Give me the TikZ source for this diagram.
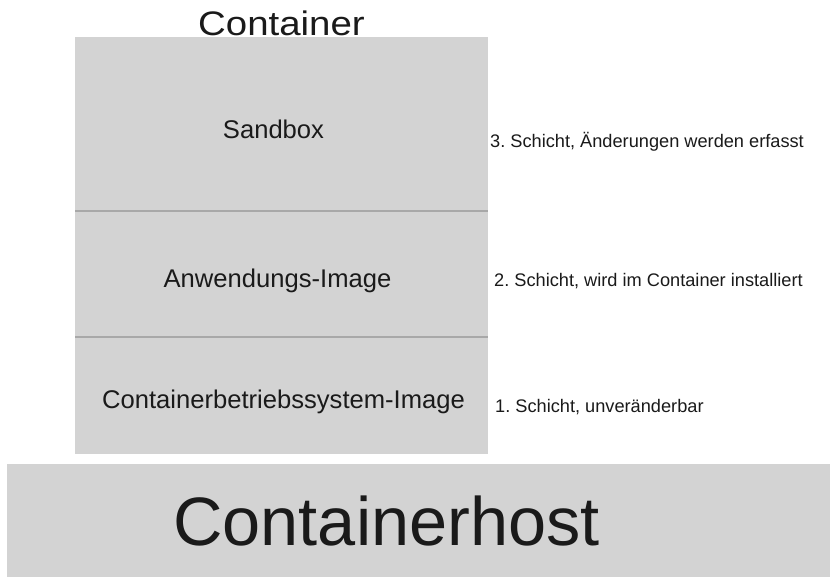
\documentclass[tikz,border=0pt]{standalone}
\usepackage{fontspec}
\setmainfont{Liberation Sans}
\frenchspacing
\definecolor{layergray}{HTML}{D3D3D3}
\definecolor{divgray}{HTML}{A8A8A8}
\definecolor{txt}{HTML}{1A1A1A}
\begin{document}
\begin{tikzpicture}[x=1pt,y=-1pt,
  layer/.style={fill=layergray,draw=none},
  divider/.style={draw=divgray,line width=2pt},
  midtext/.style={anchor=base,text=txt,inner sep=0pt,font=\fontsize{25.6}{30}\selectfont},
  sidetext/.style={anchor=base west,text=txt,inner sep=0pt,font=\fontsize{18.2}{22}\selectfont}]
\useasboundingbox (0,0) rectangle (830,577);
\fill[white] (0,0) rectangle (830,577);
% container box
\path[layer] (75,37) rectangle (487.5,454);
\coordinate (d1l) at (75,211); \coordinate (d1r) at (487.5,211);
\coordinate (d2l) at (75,337); \coordinate (d2r) at (487.5,337);
\draw[divider] (d1l) -- (d1r);
\draw[divider] (d2l) -- (d2r);
% host box
\path[layer] (7,464) rectangle (830,577);
% title
\node[anchor=base,text=txt,inner sep=0pt,font=\fontsize{34}{40}\selectfont] (title) at (281.5,36) {\scalebox{1.13}[1]{Container}};
% layer texts
\node[midtext] (sandbox) at (273.5,139) {Sandbox};
\node[midtext] (app) at (277.5,288) {Anwendungs-Image};
\node[midtext] (os) at (283.5,408) {Containerbetriebssystem-Image};
% side texts
\node[sidetext] (s3) at (490,148) {3. Schicht, Änderungen werden erfasst};
\node[sidetext] (s2) at (494,287) {2. Schicht, wird im Container installiert};
\node[sidetext] (s1) at (495,412) {1. Schicht, unveränderbar};
% host text
\node[anchor=base,text=txt,inner sep=0pt,font=\fontsize{68.5}{80}\selectfont] (host) at (386.5,545) {Containerhost};
\end{tikzpicture}
\end{document}
